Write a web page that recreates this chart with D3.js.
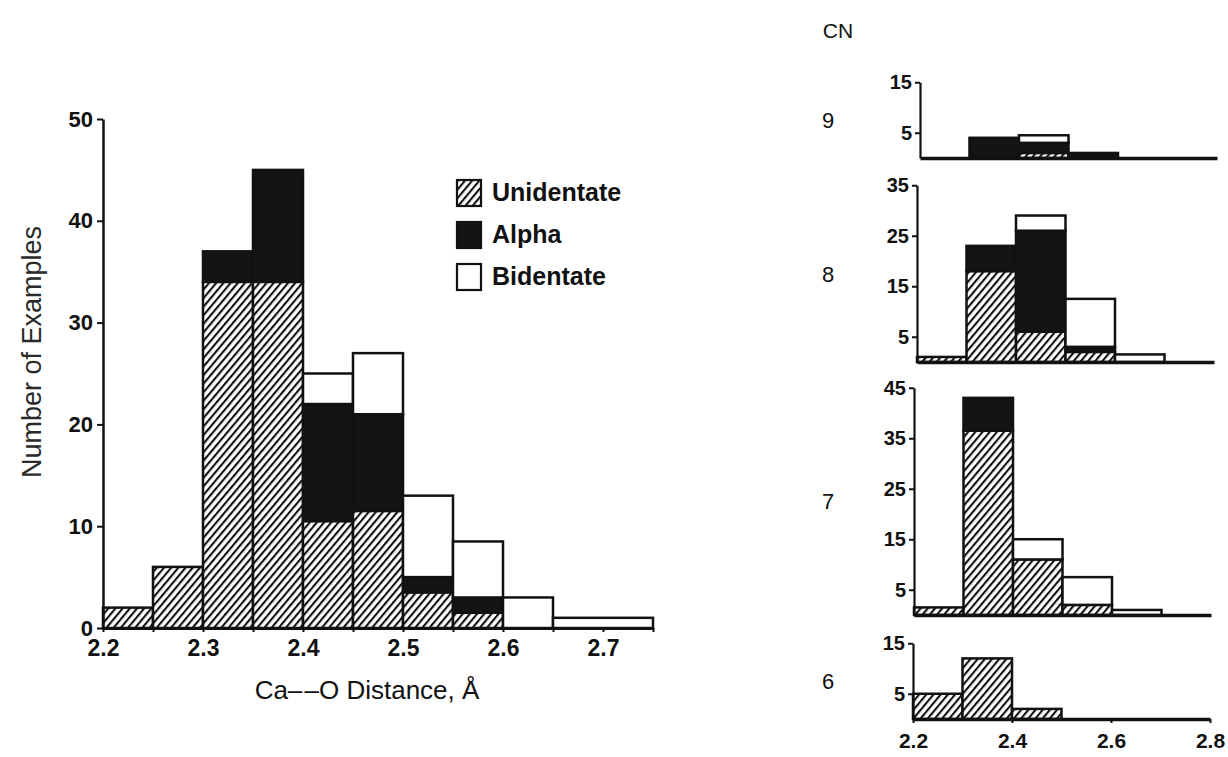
<!DOCTYPE html>
<html>
<head>
<meta charset="utf-8">
<script src="https://d3js.org/d3.v7.min.js"></script>
<style>
body { margin: 0; background: #fff; }
text { font-family: "Liberation Sans", Arial, sans-serif; fill: #111; }
.axis path, .axis line { stroke: #111; }
.axis text { font-family: "Liberation Sans", Arial, sans-serif; font-weight: bold; fill: #111; }
</style>
</head>
<body>
<svg id="chart" width="1228" height="757"></svg>
<script>
// main histogram: bin edges (last bin is the 2.65-2.75 tail)
var mainEdges = [2.20, 2.25, 2.30, 2.35, 2.40, 2.45, 2.50, 2.55, 2.60, 2.65, 2.75];
var mainUni = [2, 6, 34, 34, 10.5, 11.5, 3.5, 1.5, 0, 0];
var mainAlpha = [0, 0, 3, 11, 11.5, 9.5, 1.5, 1.5, 0, 0];
var mainBi = [0, 0, 0, 0, 3, 6, 8, 5.5, 3, 1];
var mainYTicks = [0, 10, 20, 30, 40, 50];
var mainXTicks = [2.2, 2.3, 2.4, 2.5, 2.6, 2.7];

// right panels by coordination number: bin edges (0.1 A bins)
var cnEdges = [2.2, 2.3, 2.4, 2.5, 2.6, 2.7, 2.8];
var cnLabels = ["9", "8", "7", "6"];
var cnUni = [
    [0, 0, 1, 0, 0, 0],
    [1, 18, 6, 2, 0, 0],
    [1.5, 36.5, 11, 2, 0, 0],
    [5, 12, 2, 0, 0, 0]
];
var cnAlpha = [
    [0, 4, 2, 1, 0, 0],
    [0, 5, 20, 1, 0, 0],
    [0, 6.5, 0, 0, 0, 0],
    [0, 0, 0, 0, 0, 0]
];
var cnBi = [
    [0, 0, 1.5, 0, 0, 0],
    [0, 0, 3, 9.5, 1.5, 0],
    [0, 0, 4, 5.5, 1, 0],
    [0, 0, 0, 0, 0, 0]
];
var cnYTicks = [[5, 15], [5, 15, 25, 35], [5, 15, 25, 35, 45], [5, 15]];
var cnXTicks = [2.2, 2.4, 2.6, 2.8];

var seriesNames = ["Unidentate", "Alpha", "Bidentate"];

var svg = d3.select("#chart");

// hatch pattern for unidentate
var defs = svg.append("defs");
defs.append("pattern")
    .attr("id", "hatch")
    .attr("patternUnits", "userSpaceOnUse")
    .attr("width", 5.5)
    .attr("height", 5.5)
    .attr("patternTransform", "rotate(40)")
    .call(p => p.append("rect").attr("width", 5.5).attr("height", 5.5).attr("fill", "#fff"))
    .append("line")
    .attr("x1", 1).attr("y1", 0)
    .attr("x2", 1).attr("y2", 5.5)
    .attr("stroke", "#111")
    .attr("stroke-width", 2.2);

var fills = ["url(#hatch)", "#141414", "#fff"];

// stack the three series of one histogram into rect records
function stackBins(edges, uni, alpha, bi) {
    var out = [];
    uni.forEach(function(u, i) {
        var base = 0;
        [uni[i], alpha[i], bi[i]].forEach(function(v, k) {
            if (v > 0) out.push({ x0: edges[i], x1: edges[i + 1], y0: base, y1: base + v, k: k });
            base += v;
        });
    });
    return out;
}

/***************************
/       MAIN HISTOGRAM
****************************/
var x = d3.scaleLinear().domain([2.2, 2.75]).range([103, 653]);
var y = d3.scaleLinear().domain([0, 50]).range([628, 119]);

var main = svg.append("g");

main.selectAll("rect.bar")
    .data(stackBins(mainEdges, mainUni, mainAlpha, mainBi))
    .enter()
    .append("rect")
    .attr("class", "bar")
    .attr("x", d => x(d.x0))
    .attr("y", d => y(d.y1))
    .attr("width", d => x(d.x1) - x(d.x0))
    .attr("height", d => y(d.y0) - y(d.y1))
    .attr("fill", d => fills[d.k])
    .attr("stroke", "#111")
    .attr("stroke-width", 2.5);

// y axis
main.append("g")
    .attr("class", "axis")
    .attr("transform", "translate(" + x(2.2) + ",0)")
    .call(d3.axisLeft(y).tickValues(mainYTicks).tickSize(6).tickSizeOuter(0).tickPadding(4))
    .call(g => g.select(".domain").attr("stroke-width", 2.5))
    .call(g => g.selectAll(".tick line").attr("stroke-width", 2))
    .call(g => g.selectAll("text").style("font-size", "22px"));

// x axis
main.append("g")
    .attr("class", "axis")
    .attr("transform", "translate(0," + y(0) + ")")
    .call(d3.axisBottom(x)
        .tickValues(d3.range(0, 12).map(i => 2.2 + i * 0.05))
        .tickFormat(d => mainXTicks.some(t => Math.abs(t - d) < 1e-6) ? d3.format(".1f")(d) : "")
        .tickSize(4).tickSizeOuter(0).tickPadding(8))
    .call(g => g.select(".domain").attr("stroke-width", 3))
    .call(g => g.selectAll(".tick line").attr("stroke-width", 2))
    .call(g => g.selectAll("text").style("font-size", "23px"));

// axis titles
main.append("text")
    .attr("transform", "translate(41,352) rotate(-90)")
    .style("text-anchor", "middle")
    .style("font-size", "27px")
    .style("fill", "#2a2a2a")
    .text("Number of Examples");

main.append("text")
    .attr("x", 367)
    .attr("y", 699)
    .style("text-anchor", "middle")
    .style("font-size", "26px")
    .text("Ca\u2013\u200A\u2013O Distance, Å");

// legend
var legend = main.append("g")
    .selectAll("g")
    .data(seriesNames)
    .enter()
    .append("g")
    .attr("transform", (d, i) => "translate(457," + (180 + i * 42) + ")");

legend.append("rect")
    .attr("width", 24)
    .attr("height", 26)
    .attr("fill", (d, i) => fills[i])
    .attr("stroke", "#111")
    .attr("stroke-width", 2.2);

legend.append("text")
    .attr("x", 35)
    .attr("y", 21)
    .style("font-size", "25px")
    .style("font-weight", "bold")
    .text(d => d);

/***************************
/       CN PANELS
****************************/
var panelBase = [158, 362, 615, 719];
var panelShift = [7, 4, 1, 0];
var unit = 5.05;
var px = d3.scaleLinear().domain([2.2, 2.8]).range([913, 1210]);

svg.append("text")
    .attr("x", 838)
    .attr("y", 38)
    .style("text-anchor", "middle")
    .style("font-size", "21px")
    .text("CN");

cnLabels.forEach(function(label, p) {
    var top = d3.max(cnYTicks[p]);
    var py = d3.scaleLinear()
        .domain([0, top])
        .range([panelBase[p], panelBase[p] - top * unit]);

    var g = svg.append("g")
        .attr("transform", "translate(" + panelShift[p] + ",0)");

    g.selectAll("rect.bar")
        .data(stackBins(cnEdges, cnUni[p], cnAlpha[p], cnBi[p]))
        .enter()
        .append("rect")
        .attr("class", "bar")
        .attr("x", d => px(d.x0))
        .attr("y", d => py(d.y1))
        .attr("width", d => px(d.x1) - px(d.x0))
        .attr("height", d => py(d.y0) - py(d.y1))
        .attr("fill", d => fills[d.k])
        .attr("stroke", "#111")
        .attr("stroke-width", 2.5);

    g.append("g")
        .attr("class", "axis")
        .attr("transform", "translate(" + px(2.2) + ",0)")
        .call(d3.axisLeft(py).tickValues(cnYTicks[p]).tickSize(5).tickSizeOuter(0).tickPadding(3))
        .call(a => a.select(".domain").attr("stroke-width", 2.2))
        .call(a => a.selectAll(".tick line").attr("stroke-width", 2))
        .call(a => a.selectAll("text").style("font-size", "20px"));

    g.append("g")
        .attr("class", "axis")
        .attr("transform", "translate(0," + panelBase[p] + ")")
        .call(d3.axisBottom(px).tickValues(p === 3 ? cnXTicks : []).tickSize(p === 3 ? 4 : 0)
            .tickSizeOuter(0).tickPadding(10).tickFormat(d3.format(".1f")))
        .call(a => a.select(".domain").attr("stroke-width", 3.5))
        .call(a => a.selectAll(".tick line").attr("stroke-width", 2))
        .call(a => a.selectAll("text").style("font-size", "21px"));

    svg.append("text")
        .attr("x", 828)
        .attr("y", (py(0) + py(top)) / 2 + 8)
        .style("text-anchor", "middle")
        .style("font-size", "22px")
        .text(label);
});
</script>
</body>
</html>
